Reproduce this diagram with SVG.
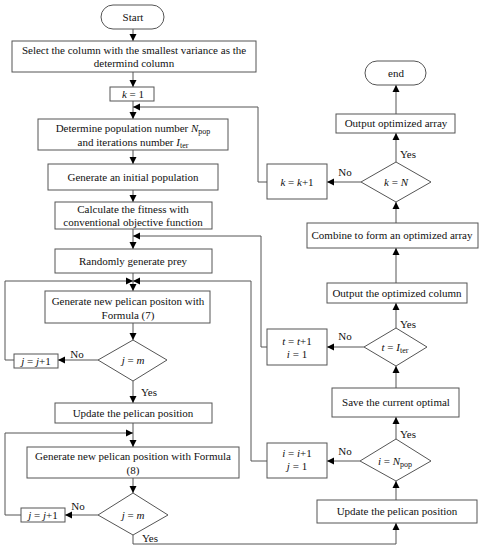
<svg xmlns="http://www.w3.org/2000/svg" width="479" height="550" viewBox="0 0 479 550">
<defs>
<style>
.b{fill:#fff;stroke:#555;stroke-width:1}
.c{fill:none;stroke:#555;stroke-width:1}
text{font-family:"Liberation Serif","Times New Roman",serif;font-size:11px;fill:#111;text-anchor:middle}
.l{text-anchor:start}
.i{font-style:italic}
.s{font-size:8px}
</style>
<marker id="a" markerUnits="userSpaceOnUse" markerWidth="8" markerHeight="8" refX="7" refY="4" orient="auto">
<path d="M0,0.5 L7,4 L0,7.5 Z" fill="#000"/>
</marker>
</defs>
<rect width="479" height="550" fill="#fff"/>
<g id="connectors">
<path class="c" d="M133,29 V41" marker-end="url(#a)"/>
<path class="c" d="M133,72 V87" marker-end="url(#a)"/>
<path class="c" d="M133,101 V119" marker-end="url(#a)"/>
<path class="c" d="M133,150 V164" marker-end="url(#a)"/>
<path class="c" d="M133,190 V202" marker-end="url(#a)"/>
<path class="c" d="M133,229 V249" marker-end="url(#a)"/>
<path class="c" d="M133,273 V291" marker-end="url(#a)"/>
<path class="c" d="M133,323 V340" marker-end="url(#a)"/>
<path class="c" d="M98,360 H58" marker-end="url(#a)"/>
<path class="c" d="M14,360 H5 V281 H133" marker-end="url(#a)"/>
<path class="c" d="M133,381 V403" marker-end="url(#a)"/>
<path class="c" d="M133,423 V447" marker-end="url(#a)"/>
<path class="c" d="M21,515 H5 V433 H133" marker-end="url(#a)"/>
<path class="c" d="M133,478 V493" marker-end="url(#a)"/>
<path class="c" d="M98,515 H65" marker-end="url(#a)"/>
<path class="c" d="M133,535 V544 H396 V523" marker-end="url(#a)"/>
<path class="c" d="M396,500 V481" marker-end="url(#a)"/>
<path class="c" d="M396,439 V417" marker-end="url(#a)"/>
<path class="c" d="M396,388 V366" marker-end="url(#a)"/>
<path class="c" d="M396,328 V303" marker-end="url(#a)"/>
<path class="c" d="M396,283 V248" marker-end="url(#a)"/>
<path class="c" d="M396,223 V202" marker-end="url(#a)"/>
<path class="c" d="M396,162 V133" marker-end="url(#a)"/>
<path class="c" d="M396,114 V85" marker-end="url(#a)"/>
<path class="c" d="M361,182 H327" marker-end="url(#a)"/>
<path class="c" d="M364,347 H327" marker-end="url(#a)"/>
<path class="c" d="M360,461 H327" marker-end="url(#a)"/>
<path class="c" d="M267,182 H258 V107 H133" marker-end="url(#a)"/>
<path class="c" d="M267,347 H261 V236 H133" marker-end="url(#a)"/>
<path class="c" d="M267,461 H251 V281 H133" marker-end="url(#a)"/>
<text x="77" y="358">No</text>
<text x="149" y="396">Yes</text>
<text x="78" y="510">No</text>
<text x="150" y="542">Yes</text>
<text x="408" y="158">Yes</text>
<text x="345" y="176">No</text>
<text x="408" y="328">Yes</text>
<text x="345" y="340">No</text>
<text x="408" y="438">Yes</text>
<text x="345" y="455">No</text>
</g>
<g id="start"><rect class="b" x="101" y="5" width="63" height="24" rx="12"/><text x="133" y="21">Start</text></g>
<g id="select"><rect class="b" x="12" y="41" width="244" height="31"/><text x="134" y="54">Select the column with the smallest variance as the</text><text x="134" y="67">determind column</text></g>
<g id="k1"><rect class="b" x="110" y="87" width="44" height="14"/><text x="133" y="98"><tspan class="i">k</tspan> = 1</text></g>
<g id="determine"><rect class="b" x="38" y="119" width="190" height="31"/><text x="133" y="132">Determine population number <tspan class="i">N</tspan><tspan class="s" dy="2">pop</tspan></text><text x="133" y="146">and iterations number <tspan class="i">I</tspan><tspan class="s" dy="2">ter</tspan></text></g>
<g id="initpop"><rect class="b" x="48" y="164" width="170" height="26"/><text x="133" y="181">Generate an initial population</text></g>
<g id="fitness"><rect class="b" x="55" y="202" width="157" height="27"/><text x="133" y="213">Calculate the fitness with</text><text x="133" y="226">conventional objective function</text></g>
<g id="prey"><rect class="b" x="55" y="249" width="157" height="24"/><text x="133" y="265">Randomly generate prey</text></g>
<g id="gen7"><rect class="b" x="45" y="291" width="165" height="32"/><text x="128" y="305">Generate new pelican positon with</text><text x="128" y="319">Formula (7)</text></g>
<g id="d1"><polygon class="b" points="133,340 167,360 133,381 98,360"/><text x="133" y="364"><tspan class="i">j</tspan> = <tspan class="i">m</tspan></text></g>
<g id="j1"><rect class="b" x="14" y="354" width="44" height="14"/><text x="36" y="365"><tspan class="i">j</tspan> = <tspan class="i">j</tspan>+1</text></g>
<g id="update1"><rect class="b" x="55" y="403" width="157" height="20"/><text x="133" y="417">Update the pelican position</text></g>
<g id="gen8"><rect class="b" x="27" y="447" width="212" height="31"/><text x="133" y="460">Generate new pelican position with Formula</text><text x="133" y="474">(8)</text></g>
<g id="d2"><polygon class="b" points="133,493 168,515 133,535 98,515"/><text x="133" y="519"><tspan class="i">j</tspan> = <tspan class="i">m</tspan></text></g>
<g id="j2"><rect class="b" x="21" y="508" width="44" height="14"/><text x="43" y="519"><tspan class="i">j</tspan> = <tspan class="i">j</tspan>+1</text></g>
<g id="end"><rect class="b" x="365" y="61" width="61" height="24" rx="12"/><text x="396" y="77">end</text></g>
<g id="outarray"><rect class="b" x="336" y="114" width="119" height="19"/><text x="396" y="127">Output optimized array</text></g>
<g id="dk"><polygon class="b" points="396,162 431,182 396,202 361,182"/><text x="396" y="186"><tspan class="i">k</tspan> = <tspan class="i">N</tspan></text></g>
<g id="kk"><rect class="b" x="267" y="164" width="60" height="35"/><text x="297" y="186"><tspan class="i">k</tspan> = <tspan class="i">k</tspan>+1</text></g>
<g id="combine"><rect class="b" x="307" y="223" width="171" height="25"/><text x="392" y="239">Combine to form an optimized array</text></g>
<g id="outcol"><rect class="b" x="327" y="283" width="140" height="20"/><text x="397" y="297">Output the optimized column</text></g>
<g id="dt"><polygon class="b" points="396,328 427,347 396,366 364,347"/><text x="395" y="351"><tspan class="i">t</tspan> = <tspan class="i">I</tspan><tspan class="s" dy="2">ter</tspan></text></g>
<g id="tt"><rect class="b" x="267" y="329" width="60" height="36"/><text x="297" y="345"><tspan class="i">t</tspan> = <tspan class="i">t</tspan>+1</text><text x="297" y="358"><tspan class="i">i</tspan> = 1</text></g>
<g id="save"><rect class="b" x="332" y="388" width="127" height="29"/><text x="396" y="406">Save the current optimal</text></g>
<g id="di"><polygon class="b" points="396,439 431,461 396,481 360,461"/><text x="395" y="465"><tspan class="i">i</tspan> = <tspan class="i">N</tspan><tspan class="s" dy="2">pop</tspan></text></g>
<g id="ii"><rect class="b" x="267" y="443" width="60" height="35"/><text x="297" y="457"><tspan class="i">i</tspan> = <tspan class="i">i</tspan>+1</text><text x="297" y="470"><tspan class="i">j</tspan> = 1</text></g>
<g id="update2"><rect class="b" x="317" y="500" width="160" height="23"/><text x="397" y="515">Update the pelican position</text></g>
</svg>
